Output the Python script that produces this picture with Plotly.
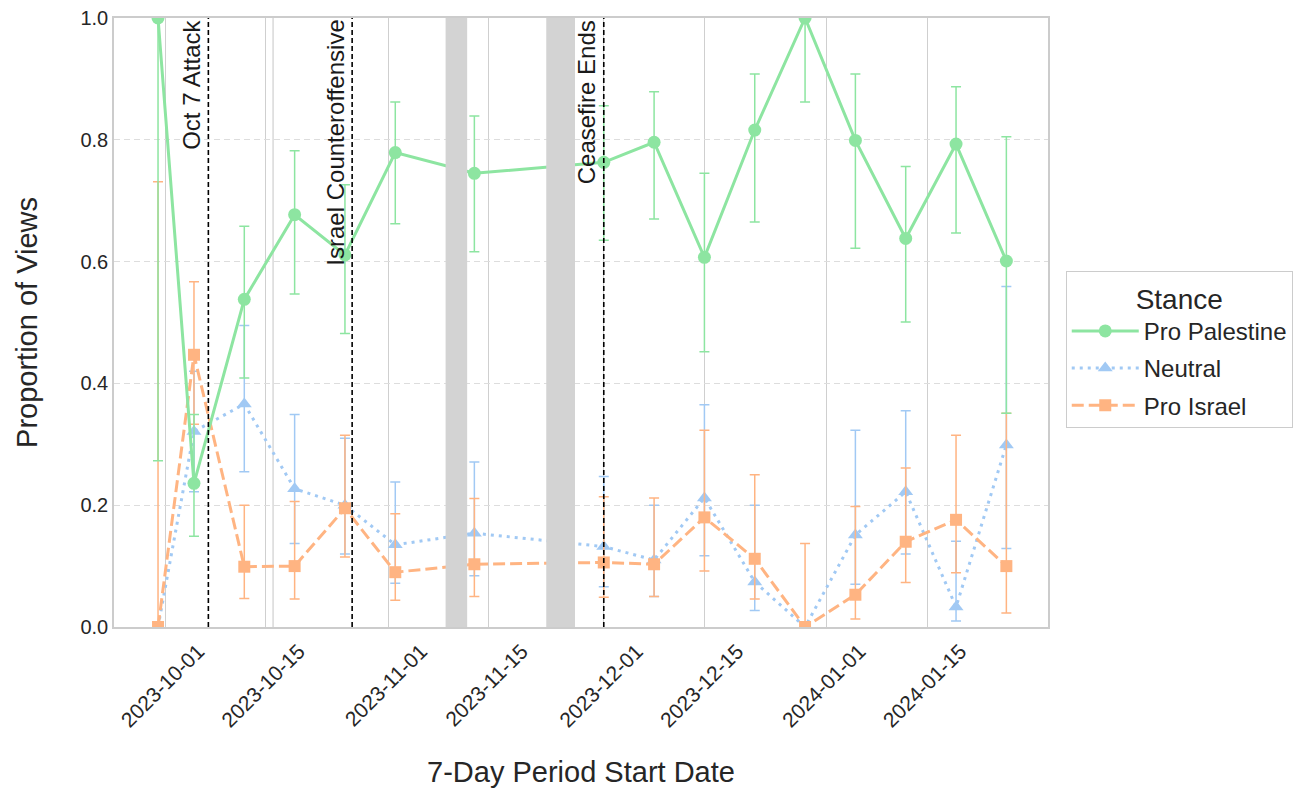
import plotly.graph_objects as go

dates = ["2023-09-30", "2023-10-05", "2023-10-12", "2023-10-19", "2023-10-26", "2023-11-02",
         "2023-11-13", "2023-12-01", "2023-12-08", "2023-12-15", "2023-12-22", "2023-12-29",
         "2024-01-05", "2024-01-12", "2024-01-19", "2024-01-26"]

pal_val = [1.0, 0.236, 0.538, 0.677, 0.611, 0.779, 0.745, 0.763, 0.796, 0.607, 0.816, 1.0, 0.799, 0.638, 0.793, 0.601]
pal_hi  = [1.0, 0.349, 0.658, 0.782, 0.726, 0.862, 0.839, 0.856, 0.879, 0.745, 0.908, 1.0, 0.908, 0.756, 0.887, 0.805]
pal_lo  = [0.273, 0.149, 0.409, 0.547, 0.482, 0.662, 0.616, 0.635, 0.670, 0.452, 0.665, 0.862, 0.622, 0.501, 0.647, 0.351]

neu_val = [0.0, 0.321, 0.366, 0.227, 0.200, 0.135, 0.154, 0.132, 0.110, 0.212, 0.074, 0.0, 0.151, 0.222, 0.033, 0.299]
neu_hi  = [0.0, 0.420, 0.495, 0.349, 0.310, 0.238, 0.271, 0.247, 0.200, 0.365, 0.200, 0.0, 0.323, 0.355, 0.141, 0.559]
neu_lo  = [0.0, 0.222, 0.255, 0.137, 0.120, 0.072, 0.084, 0.066, 0.050, 0.117, 0.027, 0.0, 0.070, 0.120, 0.010, 0.129]

isr_val = [0.0, 0.447, 0.099, 0.100, 0.195, 0.090, 0.103, 0.106, 0.103, 0.180, 0.112, 0.0, 0.053, 0.140, 0.176, 0.100]
isr_hi  = [0.731, 0.567, 0.200, 0.206, 0.315, 0.186, 0.211, 0.214, 0.212, 0.323, 0.250, 0.137, 0.198, 0.261, 0.315, 0.351]
isr_lo  = [0.0, 0.333, 0.047, 0.046, 0.115, 0.044, 0.050, 0.049, 0.050, 0.092, 0.046, 0.0, 0.013, 0.073, 0.089, 0.023]

events = [("2023-10-07", "Oct 7 Attack"), ("2023-10-27", "Israel Counteroffensive"), ("2023-12-01", "Ceasefire Ends")]
gaps = [("2023-11-09", "2023-11-12"), ("2023-11-23", "2023-11-27")]
extra_lines = ["2023-10-16"]

tick_vals = ["2023-10-01", "2023-10-15", "2023-11-01", "2023-11-15", "2023-12-01", "2023-12-15", "2024-01-01", "2024-01-15"]

GREEN = "#8de5a1"
BLUE = "#a1c9f4"
ORANGE = "#ffb482"
FONT = "Arial, Liberation Sans, sans-serif"
TXT = "#262626"

def errs(v, hi, lo):
    return [h - x for h, x in zip(hi, v)], [x - l for x, l in zip(v, lo)]

fig = go.Figure()

series = [
    ("Neutral", neu_val, neu_hi, neu_lo, BLUE, "3px,5px", "triangle-up", 2),
    ("Pro Israel", isr_val, isr_hi, isr_lo, ORANGE, "12px,5px", "square", 3),
    ("Pro Palestine", pal_val, pal_hi, pal_lo, GREEN, "solid", "circle", 1),
]
for name, v, hi, lo, col, dash, sym, rank in series:
    up, dn = errs(v, hi, lo)
    fig.add_trace(go.Scatter(
        x=dates, y=v, name=name, mode="lines+markers",
        line=dict(color=col, width=3, dash=dash),
        marker=dict(color=col, size=13 if sym != "square" else 12, symbol=sym),
        error_y=dict(type="data", array=up, arrayminus=dn, color=col, thickness=1.5, width=5),
        legendrank=rank, legendgroup=name,
        cliponaxis=True,
    ))

shapes = []
for d in extra_lines:
    shapes.append(dict(type="line", xref="x", yref="paper", x0=d, x1=d, y0=0, y1=1,
                       line=dict(color="#cfcfcf", width=1.2), layer="below"))
for a, b in gaps:
    shapes.append(dict(type="rect", xref="x", yref="paper", x0=a, x1=b, y0=0, y1=1,
                       fillcolor="#d3d3d3", line=dict(width=0), layer="above"))
annotations = []
for d, label in events:
    shapes.append(dict(type="line", xref="x", yref="paper", x0=d, x1=d, y0=0, y1=1,
                       line=dict(color="black", width=1.6, dash="5px,3px"), layer="above"))
    annotations.append(dict(x=d, y=1, xref="x", yref="paper", text=label, showarrow=False,
                            textangle=-90, xanchor="right", yanchor="top", xshift=-2, yshift=0,
                            font=dict(family=FONT, size=24, color="#1a1a1a")))

fig.update_layout(
    width=1300, height=780,
    margin=dict(l=106, r=260, t=10, b=161),
    paper_bgcolor="white", plot_bgcolor="white",
    font=dict(family=FONT, size=18, color=TXT),
    shapes=shapes, annotations=annotations,
    legend=dict(
        title=dict(text="Stance", side="top center", font=dict(size=28, color=TXT)),
        x=1.019, xanchor="left", y=0.455, yanchor="middle",
        bordercolor="#cccccc", borderwidth=1, bgcolor="white",
        font=dict(size=24, color=TXT), itemwidth=67, tracegroupgap=3,
    ),
    showlegend=True,
)
fig.update_xaxes(
    type="date", range=["2023-09-23 21:00", "2024-01-31 19:00"],
    tickvals=tick_vals, ticktext=tick_vals, tickangle=-45,
    ticklabelshift=33, ticklabelstandoff=2,
    showgrid=True, gridcolor="#cfcfcf", gridwidth=1.2,
    showline=True, linecolor="#cccccc", linewidth=1.5, mirror=True,
    ticks="", tickfont=dict(size=21, color=TXT), ticklabeloverflow="allow",
    title=dict(text="7-Day Period Start Date", font=dict(size=29, color=TXT), standoff=34),
    zeroline=False, automargin=False,
)
fig.update_yaxes(
    range=[0, 1], tickvals=[0, 0.2, 0.4, 0.6, 0.8, 1.0], tickformat=".1f",
    showgrid=True, gridcolor="#dddddd", gridwidth=1.2, griddash="6px,4px",
    showline=True, linecolor="#cccccc", linewidth=1.5, mirror=True,
    ticks="", tickfont=dict(size=20, color=TXT), ticklabeloverflow="allow",
    title=dict(text="Proportion of Views", font=dict(size=29, color=TXT), standoff=34),
    zeroline=False, automargin=False,
)

fig.write_html("out.html")
